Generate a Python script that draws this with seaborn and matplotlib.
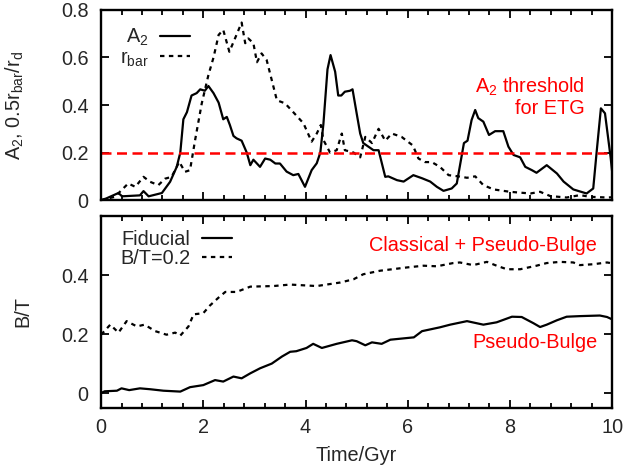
import numpy as np
import pandas as pd
import seaborn as sns
import matplotlib.pyplot as plt
from matplotlib.ticker import MultipleLocator

# --- top panel: bar strength A2 and 0.5 r_bar / r_d vs time (Gyr)
t_a2 = [0.0, 0.1, 0.34, 0.41, 0.76, 0.83, 0.93, 1.19, 1.35, 1.48, 1.55, 1.61, 1.68, 1.77,
        1.87, 1.94, 2.03, 2.10, 2.20, 2.30, 2.39, 2.46, 2.52, 2.59, 2.65, 2.75, 2.85, 2.92,
        2.98, 3.11, 3.21, 3.31, 3.41, 3.50, 3.63, 3.76, 3.86, 3.99, 4.12, 4.22, 4.29, 4.35,
        4.43, 4.49, 4.58, 4.64, 4.70, 4.77, 4.87, 4.92, 5.00, 5.07, 5.13, 5.23, 5.33, 5.43,
        5.56, 5.62, 5.79, 5.92, 6.11, 6.28, 6.44, 6.57, 6.70, 6.86, 6.96, 7.03, 7.10, 7.17,
        7.25, 7.32, 7.38, 7.48, 7.59, 7.71, 7.87, 7.97, 8.07, 8.20, 8.30, 8.43, 8.52, 8.72,
        8.92, 9.05, 9.24, 9.50, 9.63, 9.70, 9.78, 9.86, 9.97, 10.0]
a2 = [0.0, 0.007, 0.03, 0.016, 0.02, 0.038, 0.016, 0.03, 0.077, 0.14, 0.2, 0.34, 0.37, 0.44,
      0.45, 0.466, 0.46, 0.48, 0.45, 0.41, 0.34, 0.35, 0.316, 0.27, 0.26, 0.25, 0.2, 0.147,
      0.17, 0.14, 0.175, 0.17, 0.154, 0.154, 0.12, 0.105, 0.11, 0.056, 0.126, 0.155, 0.2, 0.32,
      0.55, 0.61, 0.54, 0.44, 0.44, 0.456, 0.46, 0.466, 0.366, 0.28, 0.24, 0.225, 0.21, 0.21,
      0.098, 0.10, 0.084, 0.078, 0.105, 0.092, 0.078, 0.056, 0.039, 0.049, 0.07, 0.155, 0.24, 0.25,
      0.337, 0.379, 0.345, 0.33, 0.274, 0.29, 0.29, 0.225, 0.19, 0.18, 0.14, 0.126, 0.115, 0.147,
      0.112, 0.078, 0.045, 0.028, 0.049, 0.21, 0.386, 0.365, 0.18, 0.12]

t_rbar = [0.0, 0.27, 0.53, 0.67, 0.83, 0.96, 1.12, 1.25, 1.38, 1.53, 1.64, 1.74, 1.84, 1.97,
          2.10, 2.20, 2.30, 2.39, 2.51, 2.62, 2.75, 2.82, 2.88, 2.98, 3.05, 3.14, 3.24, 3.44,
          3.60, 3.76, 3.96, 4.12, 4.22, 4.30, 4.35, 4.48, 4.61, 4.71, 4.77, 4.94, 5.07, 5.17,
          5.30, 5.43, 5.56, 5.69, 5.88, 6.10, 6.21, 6.34, 6.47, 6.63, 6.80, 6.99, 7.16, 7.32,
          7.48, 7.68, 8.0, 8.40, 8.59, 8.79, 9.11, 9.37, 9.57, 9.90, 10.0]
rbar = [0.0, 0.014, 0.07, 0.056, 0.098, 0.077, 0.063, 0.09, 0.098, 0.161, 0.119, 0.126, 0.253, 0.407,
        0.526, 0.60, 0.695, 0.716, 0.624, 0.68, 0.747, 0.66, 0.68, 0.66, 0.58, 0.617, 0.589, 0.42,
        0.407, 0.37, 0.323, 0.246, 0.28, 0.316, 0.253, 0.2, 0.21, 0.28, 0.21, 0.2, 0.18, 0.266,
        0.24, 0.30, 0.25, 0.28, 0.266, 0.23, 0.175, 0.16, 0.16, 0.14, 0.105, 0.10, 0.094, 0.10,
        0.063, 0.045, 0.035, 0.028, 0.035, 0.017, 0.011, 0.021, 0.014, 0.011, 0.012]

a2_threshold = 0.2

# --- bottom panel: bulge-to-total ratio
t_fid = [0.0, 0.07, 0.31, 0.40, 0.55, 0.76, 0.96, 1.22, 1.55, 1.74, 2.0, 2.23, 2.39, 2.59,
         2.75, 2.92, 3.11, 3.34, 3.54, 3.70, 3.82, 4.02, 4.15, 4.32, 4.61, 4.91, 5.0, 5.17,
         5.30, 5.49, 5.66, 6.12, 6.28, 6.63, 6.83, 7.16, 7.48, 7.74, 8.04, 8.23, 8.46, 8.59,
         8.72, 8.92, 9.11, 9.37, 9.76, 9.90, 10.0]
fid = [0.0, 0.006, 0.008, 0.016, 0.01, 0.016, 0.013, 0.008, 0.005, 0.02, 0.027, 0.044, 0.039, 0.056,
       0.05, 0.067, 0.084, 0.10, 0.124, 0.14, 0.142, 0.153, 0.167, 0.153, 0.167, 0.179, 0.176, 0.162,
       0.172, 0.167, 0.181, 0.189, 0.21, 0.223, 0.232, 0.244, 0.232, 0.24, 0.259, 0.258, 0.237, 0.224,
       0.232, 0.247, 0.259, 0.261, 0.263, 0.258, 0.25]

t_bt02 = [0.0, 0.18, 0.34, 0.50, 0.70, 0.85, 1.06, 1.28, 1.45, 1.55, 1.71, 1.81, 2.0, 2.13,
          2.30, 2.43, 2.65, 2.92, 3.37, 3.70, 4.22, 4.68, 4.94, 5.13, 5.46, 5.98, 6.31, 6.57,
          6.89, 7.02, 7.28, 7.55, 7.74, 7.94, 8.20, 8.52, 8.72, 8.98, 9.24, 9.37, 9.63, 9.90, 10.0]
bt02 = [0.198, 0.232, 0.205, 0.244, 0.226, 0.232, 0.21, 0.198, 0.205, 0.195, 0.226, 0.267, 0.271, 0.297,
        0.324, 0.343, 0.343, 0.361, 0.363, 0.368, 0.363, 0.375, 0.386, 0.403, 0.415, 0.426, 0.432, 0.43,
        0.441, 0.443, 0.434, 0.445, 0.432, 0.42, 0.42, 0.432, 0.441, 0.445, 0.443, 0.434, 0.437, 0.443, 0.44]

top = pd.DataFrame({"t": t_a2, "v": a2})
top_r = pd.DataFrame({"t": t_rbar, "v": rbar})
bot_f = pd.DataFrame({"t": t_fid, "v": fid})
bot_b = pd.DataFrame({"t": t_bt02, "v": bt02})

FS = 14.3

sns.set_style("ticks")
plt.rcParams["font.family"] = ["Liberation Sans", "DejaVu Sans"]
plt.rcParams["mathtext.fontset"] = "custom"
plt.rcParams["mathtext.rm"] = "Liberation Sans"
plt.rcParams["mathtext.default"] = "regular"
plt.rcParams["font.size"] = FS
plt.rcParams["axes.linewidth"] = 1.7
plt.rcParams["xtick.direction"] = "in"
plt.rcParams["ytick.direction"] = "in"

fig = plt.figure(figsize=(6.24, 4.72), dpi=100)
ax1 = fig.add_axes([0.162, 0.576, 0.819, 0.403])
ax2 = fig.add_axes([0.162, 0.136, 0.819, 0.406])

dots = (0, (2, 2))

sns.lineplot(data=top, x="t", y="v", ax=ax1, color="black", lw=1.6, label="A$_2$")
sns.lineplot(data=top_r, x="t", y="v", ax=ax1, color="black", lw=1.6, linestyle=dots,
             label="r$_{bar}$")
ax1.axhline(a2_threshold, color="#ff0000", lw=1.8, dashes=(4, 2.2))
ax1.text(9.47, 0.476, "A$_2$ threshold", color="#ff0000", ha="right", va="center", fontsize=FS)
ax1.text(9.47, 0.385, "for ETG", color="#ff0000", ha="right", va="center", fontsize=FS)

sns.lineplot(data=bot_f, x="t", y="v", ax=ax2, color="black", lw=1.6, label="Fiducial")
sns.lineplot(data=bot_b, x="t", y="v", ax=ax2, color="black", lw=1.6, linestyle=dots,
             label="B/T=0.2")
ax2.text(9.71, 0.499, "Classical + Pseudo-Bulge", color="#ff0000", ha="right", va="center",
         fontsize=FS)
ax2.text(9.71, 0.171, "Pseudo-Bulge", color="#ff0000", ha="right", va="center", fontsize=FS)

ax1.set_ylim(0, 0.8)
ax1.set_yticks([0, 0.2, 0.4, 0.6, 0.8])
ax1.set_yticklabels(["0", "0.2", "0.4", "0.6", "0.8"])
ax2.set_ylim(-0.05, 0.6)
ax2.set_yticks([0, 0.2, 0.4])
ax2.set_yticklabels(["0", "0.2", "0.4"])

for ax in (ax1, ax2):
    ax.set_xlim(0, 10)
    ax.xaxis.set_major_locator(MultipleLocator(2))
    ax.xaxis.set_minor_locator(MultipleLocator(0.4))
    ax.tick_params(which="major", top=True, right=True, length=6, width=1.3, color="black",
                   labelsize=FS)
    ax.tick_params(which="minor", top=True, length=3.5, width=1.3, color="black")
    ax.tick_params(axis="y", pad=9)
    ax.tick_params(axis="x", pad=7)
    for s in ax.spines.values():
        s.set_color("black")

ax1.set_xticklabels([])
ax1.set_xlabel("")
ax1.set_ylabel("A$_2$, 0.5r$_{bar}$/r$_d$", fontsize=FS)
ax1.yaxis.set_label_coords(-0.147, 0.5)
ax2.set_xticks([0, 2, 4, 6, 8, 10])
ax2.set_xticklabels(["0", "2", "4", "6", "8", "10"])
ax2.set_xlabel("Time/Gyr", fontsize=FS, labelpad=7)
ax2.set_ylabel("B/T", fontsize=FS)
ax2.yaxis.set_label_coords(-0.135, 0.5)

ax1.legend(loc="upper right", bbox_to_anchor=(0.174, 0.91), frameon=False, markerfirst=False,
           fontsize=FS, handlelength=1.5, handletextpad=0.6, labelspacing=0.0, borderpad=0,
           borderaxespad=0)
ax2.legend(loc="upper right", bbox_to_anchor=(0.256, 0.93), frameon=False, markerfirst=False,
           fontsize=FS, handlelength=1.5, handletextpad=0.6, labelspacing=0.0, borderpad=0,
           borderaxespad=0)

fig.savefig("out.png", dpi=100)
